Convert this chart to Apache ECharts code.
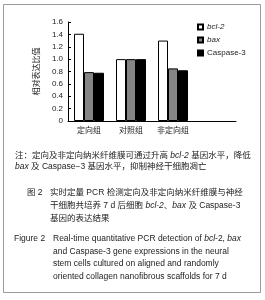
<!DOCTYPE html>
<html><head><meta charset="utf-8">
<script src="https://cdn.jsdelivr.net/npm/echarts@6/dist/echarts.min.js"></script>
<style>html,body{margin:0;padding:0;background:#fff}#c{width:265px;height:300px}</style>
</head><body><div id="c"></div>
<script>
var categories = ['定向组', '对照组', '非定向组', ''];
var bcl2 = [1.41, 1.00, 1.30, null];
var bax = [0.79, 1.00, 0.85, null];
var casp3 = [0.78, 1.00, 0.82, null];
var yTicks = ['0', '0.2', '0.4', '0.6', '0.8', '1.0', '1.2', '1.4', '1.6'];
var seriesNames = ['bcl-2', 'bax', 'Caspase-3'];
var yAxisName = '相对表达比值';

var F = '"Liberation Sans", Arial, "Noto Sans CJK SC", sans-serif';
var chart = echarts.init(document.getElementById('c'), null, {renderer: 'canvas'});
var txt = '#222';
var richDef = {i: {fontStyle: 'italic', fontSize: 8.5, fontFamily: F, fill: txt}, n: {fontSize: 8.5, fontFamily: F, fill: txt}};
function mk(x, y, t) {
  return {type: 'text', left: x, top: y, style: {text: t, rich: richDef, fontSize: 8.5, fontFamily: F, fill: txt}};
}
chart.setOption({
  animation: false,
  backgroundColor: '#fff',
  grid: {left: 68, right: 29, top: 22, bottom: 179},
  legend: {
    orient: 'vertical', left: 192, top: 18, itemWidth: 5, itemHeight: 5, itemGap: 5,
    icon: 'rect',
    data: seriesNames,
    textStyle: {fontSize: 8, fontFamily: F, color: txt, padding: [0, 0, 0, -1],
      rich: {i: {fontStyle: 'italic', fontSize: 8, fontFamily: F, color: txt}}},
    formatter: function (n) { return n === 'Caspase-3' ? n : '{i|' + n + '}'; }
  },
  xAxis: {
    type: 'category', data: categories, boundaryGap: true,
    axisLine: {lineStyle: {color: '#000', width: 1}},
    axisTick: {inside: true, length: 3, alignWithLabel: false, lineStyle: {color: '#000'}},
    axisLabel: {fontSize: 8, fontFamily: F, color: txt, margin: 6, interval: 0}
  },
  yAxis: {
    type: 'value', min: 0, max: 1.6, interval: 0.2,
    name: yAxisName, nameLocation: 'middle', nameGap: 27, nameRotate: 90,
    nameTextStyle: {fontSize: 8, fontFamily: F, color: txt},
    axisLine: {show: true, lineStyle: {color: '#000', width: 1}},
    axisTick: {show: true, inside: true, length: 3, lineStyle: {color: '#000'}},
    splitLine: {show: false},
    axisLabel: {fontSize: 8, fontFamily: F, color: txt, margin: 5,
      formatter: function (v) { return yTicks[Math.round(v / 0.2)]; }}
  },
  series: [
    {name: seriesNames[0], type: 'bar', data: bcl2, barWidth: 10, barGap: '0%',
      itemStyle: {color: '#fff', borderColor: '#000', borderWidth: 1}},
    {name: seriesNames[1], type: 'bar', data: bax, barWidth: 10, barGap: '0%',
      itemStyle: {color: '#858585', borderColor: '#000', borderWidth: 1}},
    {name: seriesNames[2], type: 'bar', data: casp3, barWidth: 10, barGap: '0%',
      itemStyle: {color: '#000', borderColor: '#000', borderWidth: 1}}
  ],
  graphic: [
    {type: 'rect', shape: {x: 3.5, y: 4.5, width: 257, height: 288}, style: {fill: 'none', stroke: '#9a9a9a', lineWidth: 1}, z: -1},
    mk(15, 151, '注：定向及非定向纳米纤维膜可通过升高 {i|bcl-2} 基因水平，降低'),
    mk(15, 162, '{i|bax} 及 Caspase−3 基因水平，抑制神经干细胞凋亡'),
    mk(27, 188, '图 2'),
    mk(50, 188, '实时定量 PCR 检测定向及非定向纳米纤维膜与神经'),
    mk(50, 201, '干细胞共培养 7 d 后细胞 {i|bcl-2}、{i|bax} 及 Caspase-3'),
    mk(50, 214, '基因的表达结果'),
    mk(14, 234, 'Figure 2'),
    mk(53, 234, 'Real-time quantitative PCR detection of {i|bcl}-2, {i|bax}'),
    mk(53, 247, 'and Caspase-3 gene expressions in the neural'),
    mk(53, 259, 'stem cells cultured on aligned and randomly'),
    mk(53, 272, 'oriented collagen nanofibrous scaffolds for 7 d')
  ]
});
</script></body></html>
